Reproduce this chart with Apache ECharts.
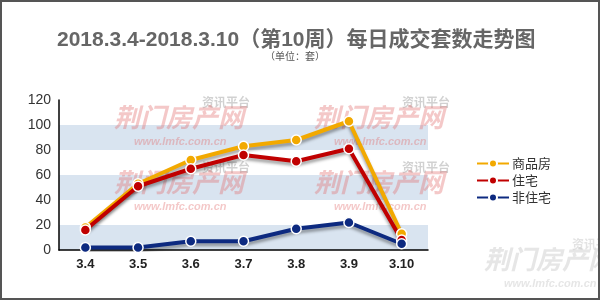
<!DOCTYPE html>
<html><head><meta charset="utf-8">
<script src="https://cdn.jsdelivr.net/npm/echarts@6/dist/echarts.min.js"></script>
<style>html,body{margin:0;padding:0;background:#fff}#c{width:600px;height:300px;box-sizing:border-box;border:2px solid #555;border-top-width:2px}</style>
</head><body><div id="c"></div>
<script>
const categories = ['3.4','3.5','3.6','3.7','3.8','3.9','3.10'];
const commercial = [18, 53, 72, 83, 88, 103, 13];
const residential = [16, 51, 65, 76, 71, 81, 8];
const nonResidential = [2, 2, 7, 7, 17, 22, 5];
const seriesNames = ['商品房','住宅','非住宅'];
const yTicks = {min:0, max:120, interval:20};

const chart = echarts.init(document.getElementById('c'));
const font = '"Liberation Sans", Arial, sans-serif';
function mk(name, data, color){
  return {name, type:'line', data, symbol:'circle', symbolSize:10, z:5,
    itemStyle:{color, borderColor:'#fff', borderWidth:1.5},
    lineStyle:{color, width:4, shadowColor:'rgba(0,0,0,0.35)', shadowBlur:3, shadowOffsetY:3},
    emphasis:{disabled:true}};
}
const wm = [];
function addWm(x, y, red, grey){
  wm.push({type:'text', left:x+88, top:y-4, z:1, style:{text:'资讯平台', fill:grey, font:'bold 12px "Noto Sans CJK SC"'}});
  wm.push({type:'text', left:x, top:y+4, z:1, style:{text:'荆门房产网', fill:red, font:'italic bold 26px "Noto Sans CJK SC"'}});
  wm.push({type:'text', left:x+20, top:y+36, z:1, style:{text:'www.lmfc.com.cn', fill:red, font:'italic bold 11px '+font}});
}
[[112,98],[312,98],[112,163],[312,163]].forEach(p=>addWm(p[0],p[1],'rgba(225,110,110,0.38)','rgba(140,140,140,0.4)'));
addWm(482, 240, 'rgba(200,200,200,0.45)', 'rgba(200,200,200,0.5)');
chart.setOption({
  animation:false,
  title:[{text:'2018.3.4-2018.3.10（第10周）每日成交套数走势图', left:50, top:23,
    textStyle:{color:'#666', fontSize:21, fontWeight:'bold', fontFamily:'"Liberation Sans","Noto Sans CJK SC",sans-serif'}},
    {text:'（单位：套）', left:258, top:44, textStyle:{color:'#555', fontSize:10, fontWeight:'normal', fontFamily:'"Noto Sans CJK SC"'}}],
  grid:{left:57, right:170, top:98, bottom:48, containLabel:false},
  legend:{orient:'vertical', left:469, top:150, itemWidth:32, itemHeight:10, itemGap:4, z:6,
    textStyle:{fontSize:13, color:'#333', fontFamily:'"Noto Sans CJK SC"', padding:[0,0,0,-2]}, data:seriesNames},
  xAxis:{type:'category', data:categories, boundaryGap:true,
    axisLine:{lineStyle:{color:'#000', width:1.5}}, axisTick:{show:false},
    axisLabel:{color:'#222', fontSize:13, fontWeight:'bold', fontFamily:font, margin:8}},
  yAxis:{type:'value', min:yTicks.min, max:yTicks.max, interval:yTicks.interval,
    axisLine:{show:true, lineStyle:{color:'#000', width:1.5}}, axisTick:{show:false},
    splitLine:{show:false},
    splitArea:{show:true, areaStyle:{color:['#d9e4f0','#ffffff']}},
    axisLabel:{color:'#333', fontSize:14, fontFamily:font, margin:8}},
  graphic: wm,
  series:[mk(seriesNames[0], commercial, '#f2a900'), mk(seriesNames[1], residential, '#c00000'), mk(seriesNames[2], nonResidential, '#0d2a80')]
});
</script></body></html>
